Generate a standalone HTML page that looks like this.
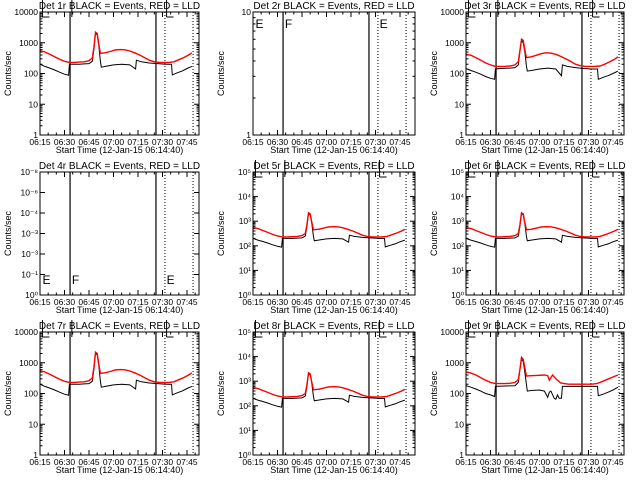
<!DOCTYPE html>
<html><head><meta charset="utf-8">
<style>
html,body{margin:0;padding:0;background:#fff;}
svg{display:block;}
text{font-family:"Liberation Sans",sans-serif;fill:#000;}
</style></head>
<body>
<svg id="chart" width="640" height="480" viewBox="0 0 640 480"></svg>
<script>
// ---- data (minutes since 06:15, counts/sec) ----
const tickLabelsX = ["06:15","06:30","06:45","07:00","07:15","07:30","07:45"];
const tickMinutesX = [0,15,30,45,60,75,90];
const panelTitles = ["Det 1r","Det 2r","Det 3r","Det 4r","Det 5r","Det 6r","Det 7r","Det 8r","Det 9r"];
const vertSolidMin = [18.4, 71];
const vertDottedMin = [76.5, 93.7];

const redA_t = [0,3,6,9,12,15,18,21,24,27,30,32,33,34,35,36,37,40,43,46,49,52,55,58,61,64,67,70,73,76,79,82,85,88,91,93];
const redA_v = [550,500,420,350,290,250,230,230,235,240,260,320,700,2200,2000,900,450,470,520,580,600,590,540,470,400,330,270,240,230,230,230,240,280,330,400,470];
const blkA_t = [0,3,6,9,12,15,17.5,18,21,24,27,30,32,33,34,35,36,37,37.5,40,45,50,55,58.5,59,62,67,72,77,80.5,81,84,87,90,93];
const blkA_v = [200,170,150,130,110,95,88,200,200,200,205,210,250,600,2100,1800,800,250,160,170,190,200,190,140,270,240,220,210,200,200,90,105,120,145,170];

const redB_v = [430,390,330,270,220,190,170,170,172,175,190,240,550,1300,1200,600,330,350,390,440,470,460,420,360,300,250,200,180,170,170,170,175,200,240,290,350];
const blkB_v = [145,125,110,95,80,70,65,140,145,148,150,155,190,500,1200,1000,500,180,120,125,140,150,140,85,190,170,155,145,140,140,65,75,85,100,120];

const redC_t = [0,3,6,9,12,15,18,21,24,27,30,32,33,34,35,36,37,40,45,48,50,51,52,53,55,58,60,63,67,72,77,80,83,86,89,93];
const redC_v = [500,460,400,330,270,230,210,210,210,215,230,280,600,1500,1300,700,370,380,390,400,380,270,330,400,300,220,210,200,200,200,200,210,240,280,330,400];
const blkC_t = [0,3,6,9,12,15,17.5,18,24,30,32,33,34,35,36,37,37.5,40,45,48,50,51,52,54,55,56,57,58.5,59,65,72,80.5,81,84,87,90,93];
const blkC_v = [180,160,140,120,100,90,80,170,175,180,230,600,1300,1100,500,200,120,125,130,120,75,110,120,70,65,90,70,70,170,170,170,170,85,95,110,130,160];

const yLabelsLin = ["1","10","100","1000","10000"];
const yLabelsExp = ["10\u2070","10\u00b9","10\u00b2","10\u00b3","10\u2074","10\u2075"];
const yLabelsP4 = ["10\u2070","10\u207b\u00b9","10\u207b\u00b3","10\u207b\u00b3","10\u207b\u2074","10\u207b\u2076","10\u207b\u2078"];

const NS="http://www.w3.org/2000/svg";
const svg=document.getElementById('chart');
function mk(tag,attrs,parent){const e=document.createElementNS(NS,tag);for(const k in attrs)e.setAttribute(k,attrs[k]);(parent||svg).appendChild(e);return e;}

const colX=[[40,199],[253,415],[466,624]];
const rowY=[[12,135],[172,295],[332,455]];
const PXMIN=24.5/15;

// panel config: [ymin decade, ymax decade, labels, red t, red v, blk t, blk v, markers y-mode]
const cfg=[
 {d0:0,d1:4,lab:yLabelsLin,rt:redA_t,rv:redA_v,bt:blkA_t,bv:blkA_v,mk:'top'},
 {d0:0,d1:1,lab:["1","10"],rt:null,mk:'upper'},
 {d0:0,d1:4,lab:yLabelsLin,rt:redA_t,rv:redB_v,bt:blkA_t,bv:blkB_v,mk:'top'},
 {d0:0,d1:6,lab:yLabelsP4,rt:null,mk:'bottom'},
 {d0:0,d1:5,lab:yLabelsExp,rt:redA_t,rv:redA_v,bt:blkA_t,bv:blkA_v,mk:'top'},
 {d0:0,d1:5,lab:yLabelsExp,rt:redA_t,rv:redA_v,bt:blkA_t,bv:blkA_v,mk:'top'},
 {d0:0,d1:4,lab:yLabelsLin,rt:redA_t,rv:redA_v,bt:blkA_t,bv:blkA_v,mk:'top'},
 {d0:0,d1:5,lab:yLabelsExp,rt:redA_t,rv:redA_v,bt:blkA_t,bv:blkA_v,mk:'top'},
 {d0:0,d1:4,lab:yLabelsLin,rt:redC_t,rv:redC_v,bt:blkC_t,bv:blkC_v,mk:'top'}
];

cfg.forEach((c,i)=>{
  const [x0,x1]=colX[i%3], [y0,y1]=rowY[Math.floor(i/3)];
  const g=mk('g',{});
  
  
  const xs=m=>x0+m*PXMIN;
  const ys=v=>y1-(Math.log10(v)-c.d0)/(c.d1-c.d0)*(y1-y0);
  const yd=d=>y1-(d-c.d0)/(c.d1-c.d0)*(y1-y0);
  const cx=(x0+x1)/2;
  const t=mk('text',{x:cx,y:y0-3,'font-size':10,'text-anchor':'middle'},g);
  t.textContent=panelTitles[i]+" BLACK = Events, RED = LLD";
  
  
  const xt=mk('text',{x:cx,y:y1+18,'font-size':9,'text-anchor':'middle'},g);
  xt.textContent="Start Time (12-Jan-15 06:14:40)";
  
  
  const yt=mk('text',{x:0,y:0,'font-size':9,'text-anchor':'middle',transform:`translate(${x0-29},${(y0+y1)/2}) rotate(-90)`},g);
  yt.textContent="Counts/sec";
  
  
  // x ticks
  tickMinutesX.forEach((m,k)=>{
    const x=xs(m);
    mk('line',{x1:x,x2:x,y1:y1,y2:y1-5,stroke:'#000'},g);
    mk('line',{x1:x,x2:x,y1:y0,y2:y0+5,stroke:'#000'},g);
    const l=mk('text',{x:x,y:y1+10,'font-size':8.5,'text-anchor':'middle'},g);
    l.textContent=tickLabelsX[k];
    
    
  });
  for(let m=5;xs(m)<x1;m+=5){ if(m%15===0)continue; const x=xs(m);
    mk('line',{x1:x,x2:x,y1:y1,y2:y1-2.5,stroke:'#000'},g);
    mk('line',{x1:x,x2:x,y1:y0,y2:y0+2.5,stroke:'#000'},g);}
  // y ticks
  c.lab.forEach((s,k)=>{
    const y=yd(c.d0+k*(c.d1-c.d0)/(c.lab.length-1));
    mk('line',{x1:x0,x2:x0+5,y1:y,y2:y,stroke:'#000'},g);
    mk('line',{x1:x1,x2:x1-5,y1:y,y2:y,stroke:'#000'},g);
    const l=mk('text',{x:x0-2,y:y+3,'font-size':8.5,'text-anchor':'end'},g);
    l.textContent=s;
    
    
  });
  if(c.lab!==yLabelsP4){
    for(let d=c.d0;d<c.d1;d++) for(let k=2;k<10;k++){ const y=yd(d+Math.log10(k));
      mk('line',{x1:x0,x2:x0+2.5,y1:y,y2:y,stroke:'#000'},g);
      mk('line',{x1:x1,x2:x1-2.5,y1:y,y2:y,stroke:'#000'},g);}
  }
  // vertical markers
  vertSolidMin.forEach(m=>{const l=mk('line',{x1:xs(m),x2:xs(m),y1:y0,y2:y1,stroke:'#000','stroke-width':1.2},g);
    });
  vertDottedMin.forEach(m=>{const l=mk('line',{x1:xs(m),x2:xs(m),y1:y0,y2:y1,stroke:'#000','stroke-dasharray':'1,2'},g);
    });
  // E/F markers
  const mm=[[1.5,'E'],[19.5,'F'],[77.5,'E']];
  mm.forEach(([m,s])=>{
    if(c.mk==='top'){
      const x=xs(m);
      mk('line',{x1:x,x2:x,y1:y0-12,y2:y0+5,stroke:'#000'},g);
      if(s==='E') mk('line',{x1:x,x2:x+7,y1:y0+5,y2:y0+5,stroke:'#000'},g);
    } else {
      const yy=c.mk==='upper'?y0+16:y1-11;
      const l=mk('text',{x:xs(m),y:yy,'font-size':12,'font-weight':'normal'},g);
      l.textContent=s;
      
      
    }
  });
  // series
  if(c.rt){
    const bp=c.bt.map((m,k)=>xs(m).toFixed(1)+','+ys(c.bv[k]).toFixed(1)).join(' ');
    const b=mk('polyline',{points:bp,fill:'none',stroke:'#000','stroke-width':1},g);
    
    
    const rp=c.rt.map((m,k)=>xs(m).toFixed(1)+','+ys(c.rv[k]).toFixed(1)).join(' ');
    const r=mk('polyline',{points:rp,fill:'none',stroke:'#ff0000','stroke-width':1.4},g);
    
    
  }
  const f=mk('rect',{x:x0,y:y0,width:x1-x0,height:y1-y0,fill:'none',stroke:'#000','stroke-width':1},g);
  
  
});
</script>
</body></html>
